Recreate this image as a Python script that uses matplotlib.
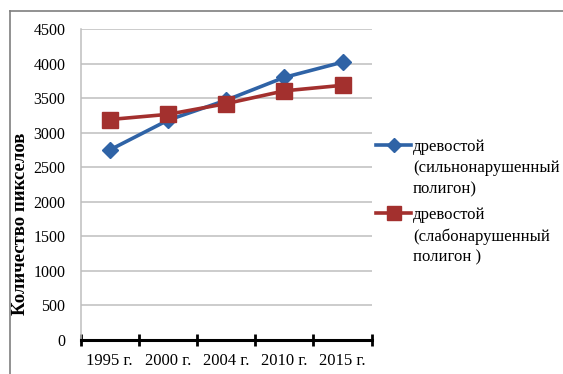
import matplotlib.pyplot as plt
from matplotlib.lines import Line2D
import numpy as np

years = ['1995 г.', '2000 г.', '2004 г.', '2010 г.', '2015 г.']
strong = [2750, 3180, 3470, 3800, 4020]
weak = [3190, 3265, 3420, 3605, 3685]
label_strong = 'древостой\n(сильнонарушенный\nполигон)'
label_weak = 'древостой\n(слабонарушенный\nполигон )'

blue = '#2F63A6'
red = '#A3302E'

plt.rcParams['font.family'] = ['Liberation Serif', 'DejaVu Serif']

fig = plt.figure(figsize=(5.63, 3.74), dpi=100)
ax = fig.add_axes([0.1433, 0.0909, 0.5168, 0.8316])

x = np.arange(len(years))
ax.plot(x, strong, color=blue, lw=2.6, marker='D', ms=8.5, mec=blue, mfc=blue, zorder=3)
ax.plot(x, weak, color=red, lw=2.6, marker='s', ms=11, mec=red, mfc=red, zorder=3)

ax.set_xlim(-0.5, len(years) - 0.5)
ax.set_ylim(0, 4500)
ax.set_yticks(np.arange(0, 4501, 500))
ax.yaxis.grid(True, color='#BEBEBE', lw=1.1)
ax.set_axisbelow(True)
ax.tick_params(axis='y', length=0, labelsize=11.5, pad=11)

ax.set_xticks(np.arange(-0.5, len(years)), labels=[''] * (len(years) + 1))
ax.set_xticks(x, labels=years, minor=True)
ax.tick_params(axis='x', which='major', direction='inout', length=9, width=2, color='black')
ax.tick_params(axis='x', which='minor', length=0, labelsize=12, pad=9)

for s in ['top', 'right']:
    ax.spines[s].set_visible(False)
ax.spines['left'].set_color('#BEBEBE')
ax.spines['left'].set_linewidth(1.1)
ax.spines['bottom'].set_color('black')
ax.spines['bottom'].set_linewidth(2.2)

ax.set_ylabel('Количество пикселов', fontsize=13.5, fontweight='bold')
ax.yaxis.set_label_coords(-0.178, 0.373)

# legend drawn by hand so the marker sits at the first line
W, H = 563, 374
for lbl, col, mk, ms, ypx in [(label_strong, blue, 'D', 7, 145), (label_weak, red, 's', 9.5, 213)]:
    yf = 1 - ypx / H
    fig.add_artist(Line2D([376 / W, 411 / W], [yf, yf], color=col, lw=2.6))
    fig.add_artist(Line2D([393.5 / W], [yf], color=col, marker=mk, ms=ms, lw=0))
    fig.text(413 / W, 1 - (ypx - 6) / H, lbl, fontsize=12, va='top', ha='left', linespacing=1.42)

# outer frame (top and left edges visible)
fig.add_artist(Line2D([9.5 / W, 1], [1 - 10.5 / H, 1 - 10.5 / H], color='#7F7F7F', lw=1.2))
fig.add_artist(Line2D([9.5 / W, 9.5 / W], [0, 1 - 10.5 / H], color='#7F7F7F', lw=1.2))

fig.savefig('out.png', dpi=100)
